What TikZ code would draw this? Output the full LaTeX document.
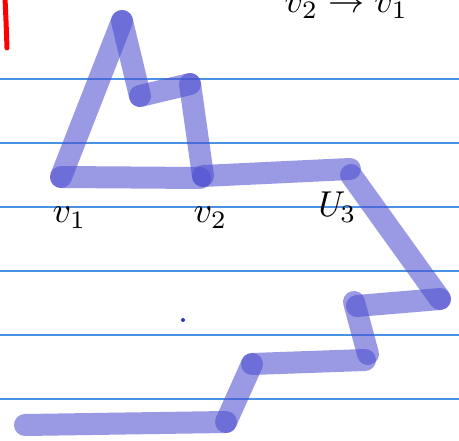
\documentclass[tikz,border=0pt]{standalone}
\usepackage{amsmath}
\definecolor{rule}{RGB}{74,146,228}
\definecolor{hl}{RGB}{80,80,210}
\definecolor{dotc}{RGB}{50,50,200}
\tikzset{
  ruleline/.style={draw=rule, line width=1.4pt},
  hlstroke/.style={draw=hl, draw opacity=0.58, line width=22pt, line cap=round, line join=round},
  hand/.style={inner sep=0pt, scale=3.6, anchor=base west},
}
\begin{document}
\begin{tikzpicture}[x=1pt,y=-1pt]
\useasboundingbox (0,0) rectangle (459,441);
\clip (0,0) rectangle (459,441);
\fill[white] (0,0) rectangle (459,441);
% ruled lines
\foreach \yy in {79,143,207,271,335,399} \draw[ruleline] (0,\yy) -- (459,\yy);
% red mark
\draw[red, line width=5pt, line cap=round] (5,-2) .. controls (6,20) .. (7,48);
% points
\coordinate (a) at (61,177);
\coordinate (b) at (122,21);
\coordinate (c) at (140,96);
\coordinate (d) at (190,84);
\coordinate (e) at (203,176);
\coordinate (e2) at (200,178);
\coordinate (f) at (350,169);
\coordinate (f2) at (351,175);
\coordinate (g) at (440,299);
\coordinate (h) at (357,306);
\coordinate (h2) at (354,302);
\coordinate (i) at (368,354);
\coordinate (i2) at (365,360);
\coordinate (j) at (252,364);
\coordinate (k) at (226,422);
\coordinate (l) at (25,425);
% highlighter strokes
\draw[hlstroke] (a) -- (b);
\draw[hlstroke] (b) -- (c);
\draw[hlstroke] (c) -- (d);
\draw[hlstroke] (d) -- (e);
\draw[hlstroke] (a) -- (e2);
\draw[hlstroke] (e) -- (f);
\draw[hlstroke] (f2) -- (g);
\draw[hlstroke] (g) -- (h);
\draw[hlstroke] (h2) -- (i);
\draw[hlstroke] (i2) -- (j);
\draw[hlstroke] (j) -- (k);
\draw[hlstroke] (k) -- (l);
% dot
\fill[dotc] (183,320) circle (2);
% labels
\node[hand] (lv1) at (52,223) {$v_{1}$};
\node[hand] (lv2) at (193,223) {$v_{2}$};
\node[hand] (lv3) at (313,217) {$\mathit{U}_{3}$};
\node[hand] (top) at (284,13) {$v_2 \to v_{1}$};
\end{tikzpicture}
\end{document}
